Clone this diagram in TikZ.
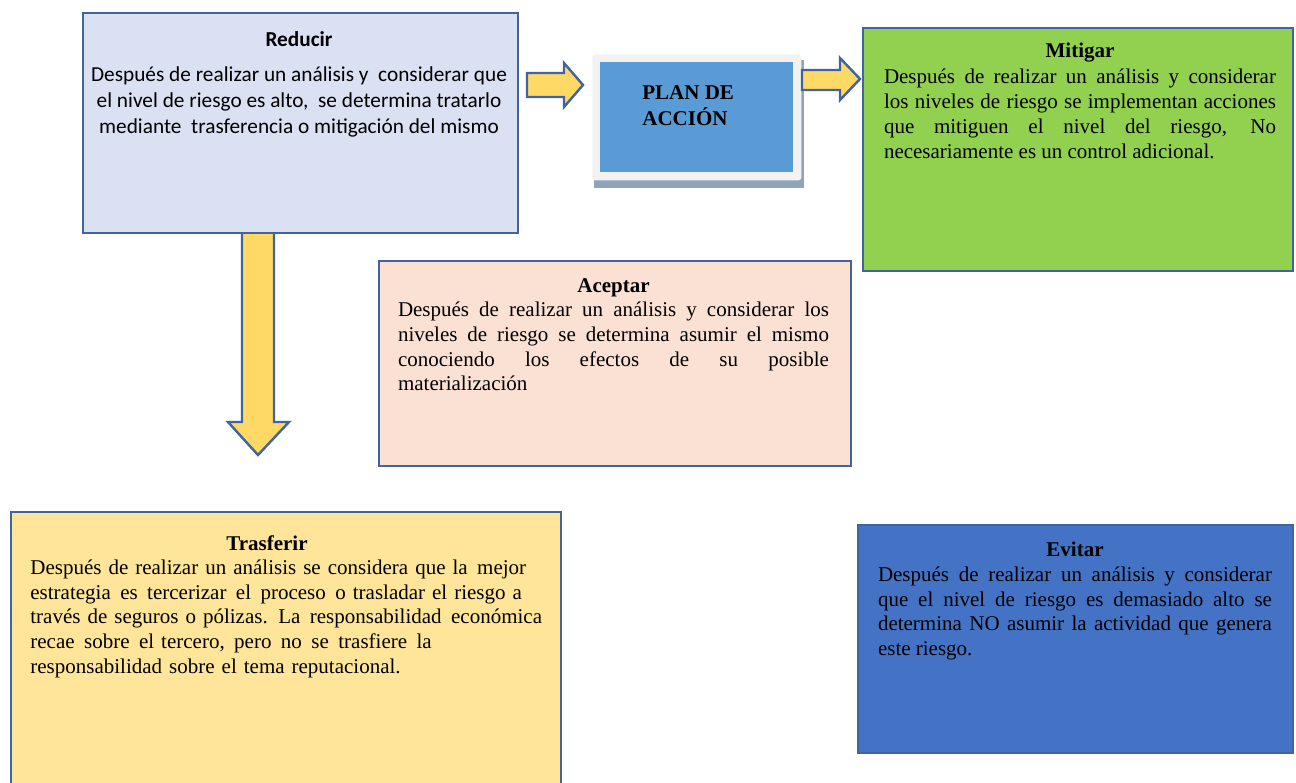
\documentclass[tikz,border=0pt]{standalone}
\usepackage{fontspec}
\setmainfont{Liberation Serif}
\newfontfamily\calfont{Carlito}
\definecolor{borde}{HTML}{41649E}
\definecolor{redfill}{HTML}{DAE1F2}
\definecolor{acefill}{HTML}{FAE1D4}
\definecolor{trafill}{HTML}{FFE599}
\definecolor{mitfill}{HTML}{92D050}
\definecolor{evifill}{HTML}{4472C4}
\definecolor{planblue}{HTML}{5B9BD5}
\definecolor{planframe}{HTML}{F2F2F2}
\definecolor{planshadow}{HTML}{8FA3BC}
\definecolor{arrowfill}{HTML}{FFD966}
\newcommand\dsp{\hspace{0.45em}}
\tikzset{
  box/.style={draw=borde, line width=1pt, rectangle, inner sep=0pt, anchor=north west},
  blockarrow/.style={draw=borde, fill=arrowfill, line width=1.2pt, line join=miter},
  txt/.style={inner sep=0pt, font=\fontsize{10.5}{12.3}\selectfont},
}
\begin{document}
\begin{tikzpicture}[x=0.5pt,y=-0.5pt]
\useasboundingbox (0,0) rectangle (1296,782);
% arrows
\draw[blockarrow] (242,232) -- (274,232) -- (274,422) -- (289,422) -- (258,455) -- (228,422) -- (242,422) -- cycle;
% boxes
\node[box, fill=redfill, minimum width=217.5pt, minimum height=110pt] (red) at (82,12) {};
\node[box, fill=mitfill, minimum width=215pt, minimum height=121.5pt] (mit) at (862,27) {};
\node[box, fill=acefill, minimum width=236pt, minimum height=102.5pt] (ace) at (378,260) {};
\node[box, fill=trafill, minimum width=275pt, minimum height=137pt] (tra) at (10,511) {};
\node[box, fill=evifill, minimum width=217.5pt, minimum height=114pt] (evi) at (857,524) {};
% plan de accion
\fill[planshadow] (594,60) rectangle (804,188);
\node[fill=planframe, rounded corners=1.5pt, inner sep=0pt, anchor=north west, minimum width=104.5pt, minimum height=63pt] (planf) at (592,54) {};
\node[fill=planblue, inner sep=0pt, anchor=north west, minimum width=96.5pt, minimum height=55pt] (plan) at (600,62) {};
\node[txt, anchor=north west, align=left, font=\fontsize{10.5}{13}\selectfont\bfseries] (planT) at (642,85) {PLAN DE\\ACCIÓN};
% horizontal arrows
\draw[blockarrow] (527,73) -- (564,73) -- (564,63) -- (583,85) -- (564,107) -- (564,97) -- (527,97) -- cycle;
\draw[blockarrow] (802,70) -- (840,70) -- (840,58) -- (860,79) -- (840,100) -- (840,90) -- (802,90) -- cycle;
% texts
\node[inner sep=0pt, anchor=north, align=center, font=\calfont\fontsize{10.65}{13}\selectfont] (redT) at (299,31)
 {\textbf{Reducir}\\[4.5pt]Después de realizar un análisis y\ \ considerar que\\el nivel de riesgo es alto,\ \ se determina tratarlo\\mediante\ \ trasferencia o mitigación del mismo};
\node[txt, font=\fontsize{10.5}{12.6}\selectfont, text width=196pt, align=justify, anchor=north] (mitT) at (1080,43)
 {{\centering\bfseries Mitigar\par}Después de realizar un análisis y considerar\linebreak los niveles de riesgo se implementan acciones\linebreak que mitiguen el nivel del riesgo, No\linebreak necesariamente es un control adicional.};
\node[txt, text width=215.5pt, align=justify, anchor=north] (aceT) at (613.5,278)
 {{\centering\bfseries Aceptar\par}Después de realizar un análisis y considerar los\linebreak niveles de riesgo se determina asumir el mismo\linebreak conociendo los efectos de su posible\linebreak materialización};
\node[txt, text width=265pt, align=left, anchor=north west] (traT) at (30,535)
 {\hspace*{98pt}\textbf{Trasferir}\\Después de realizar un análisis se considera que la\dsp mejor\\estrategia\dsp es\dsp tercerizar\dsp el\dsp proceso\dsp o trasladar el riesgo a\\través de seguros o pólizas. La\dsp responsabilidad\dsp económica\\recae\dsp sobre\dsp el tercero,\dsp pero\dsp no\dsp se\dsp trasfiere\dsp la\\responsabilidad sobre el tema reputacional.};
\node[txt, text width=197pt, align=justify, anchor=north] (eviT) at (1075,542)
 {{\centering\bfseries Evitar\par}Después de realizar un análisis y considerar\linebreak que el nivel de riesgo es demasiado alto se\linebreak determina NO asumir la actividad que genera\linebreak este riesgo.};
\end{tikzpicture}
\end{document}
